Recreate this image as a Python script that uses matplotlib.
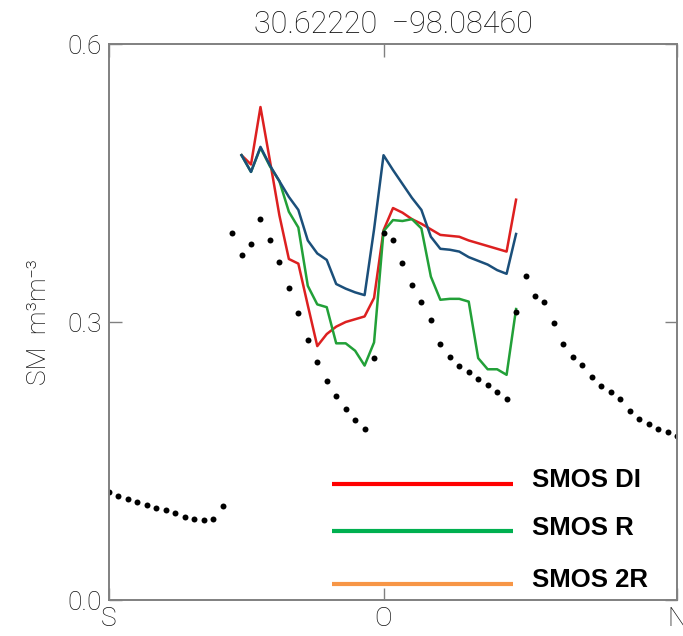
import numpy as np
import matplotlib
matplotlib.use('Agg')
import matplotlib.pyplot as plt

# days since start of september (one point per day)
obs_day = list(range(0, 61))
obs_sm = [0.117, 0.112, 0.109, 0.106, 0.103, 0.099, 0.097, 0.094, 0.090, 0.087,
          0.086, 0.087, 0.101, 0.396, 0.372, 0.384, 0.411, 0.388, 0.365, 0.337,
          0.310, 0.281, 0.257, 0.236, 0.220, 0.206, 0.194, 0.185, 0.261, 0.396,
          0.388, 0.364, 0.340, 0.322, 0.302, 0.276, 0.262, 0.253, 0.246, 0.238,
          0.232, 0.224, 0.217, 0.311, 0.350, 0.328, 0.322, 0.299, 0.276, 0.262,
          0.254, 0.241, 0.231, 0.224, 0.217, 0.204, 0.195, 0.190, 0.185, 0.181,
          0.177]

smos_day = list(range(14, 44))
smos_di = [0.480, 0.470, 0.532, 0.474, 0.415, 0.368, 0.363, 0.318, 0.274, 0.287,
           0.295, 0.300, 0.303, 0.306, 0.326, 0.399, 0.423, 0.418, 0.411, 0.406,
           0.400, 0.394, 0.393, 0.392, 0.388, 0.385, 0.382, 0.379, 0.376, 0.432]
smos_r = [0.480, 0.462, 0.488, 0.468, 0.452, 0.419, 0.402, 0.339, 0.319, 0.316,
          0.277, 0.277, 0.269, 0.253, 0.278, 0.398, 0.410, 0.409, 0.411, 0.401,
          0.349, 0.324, 0.325, 0.325, 0.322, 0.261, 0.249, 0.249, 0.243, 0.314]
smos_2r = [0.480, 0.462, 0.489, 0.469, 0.452, 0.435, 0.421, 0.388, 0.374, 0.367,
           0.341, 0.336, 0.332, 0.329, 0.400, 0.480, 0.464, 0.449, 0.434, 0.421,
           0.392, 0.379, 0.378, 0.376, 0.370, 0.366, 0.362, 0.356, 0.352, 0.395]

x_ticks = [0, 29, 60]
x_labels = ['S', 'O', 'N']
y_ticks = [0.0, 0.3, 0.6]
y_labels = ['0.0', '0.3', '0.6']

legend_names = ['SMOS DI', 'SMOS R', 'SMOS 2R']
legend_colors = ['#ff0000', '#00b050', '#f79646']

thin = dict(family=['Roboto', 'DejaVu Sans'], fontweight='light', color='#111111')

fig = plt.figure(figsize=(6.83, 6.36), dpi=100)
ax = fig.add_axes([0.1596, 0.0566, 0.8316, 0.8742])

ax.plot(smos_day, smos_di, color='#dd2020', lw=1.8)
ax.plot(smos_day, smos_r, color='#22a038', lw=1.8)
ax.plot(smos_day, smos_2r, color='#1b4f7a', lw=1.8)
ax.plot(obs_day, obs_sm, 'o', color='black', markersize=4.3, markeredgewidth=0)

ax.set_xlim(0, 60)
ax.set_ylim(0, 0.6)
ax.set_xticks(x_ticks)
ax.set_xticklabels(x_labels, fontsize=19, **thin)
ax.set_yticks(y_ticks)
ax.set_yticklabels(y_labels, fontsize=19, **thin)
ax.tick_params(direction='in', length=9, width=1, color='#808080',
               top=True, right=True, pad=5)
for s in ax.spines.values():
    s.set_color('#808080')
    s.set_linewidth(1.4)

ax.set_title('30.62220  \u221298.08460', fontsize=22, pad=8, **thin)
ax.set_ylabel('SM  m\u00b3m\u207b\u00b3', fontsize=19, labelpad=12, **thin)

# legend drawn by hand, as in the original figure
leg_y = [0.209, 0.124, 0.029]
txt_y = [0.216, 0.130, 0.036]
for i in range(len(legend_names)):
    ax.plot([0.393, 0.711], [leg_y[i], leg_y[i]], color=legend_colors[i], lw=3,
            transform=ax.transAxes, solid_capstyle='butt')
    ax.text(0.745, txt_y[i], legend_names[i], transform=ax.transAxes,
            fontsize=18.5, fontweight='bold', family='Liberation Sans',
            va='center', ha='left', color='black')

fig.savefig('out.png', dpi=100)
